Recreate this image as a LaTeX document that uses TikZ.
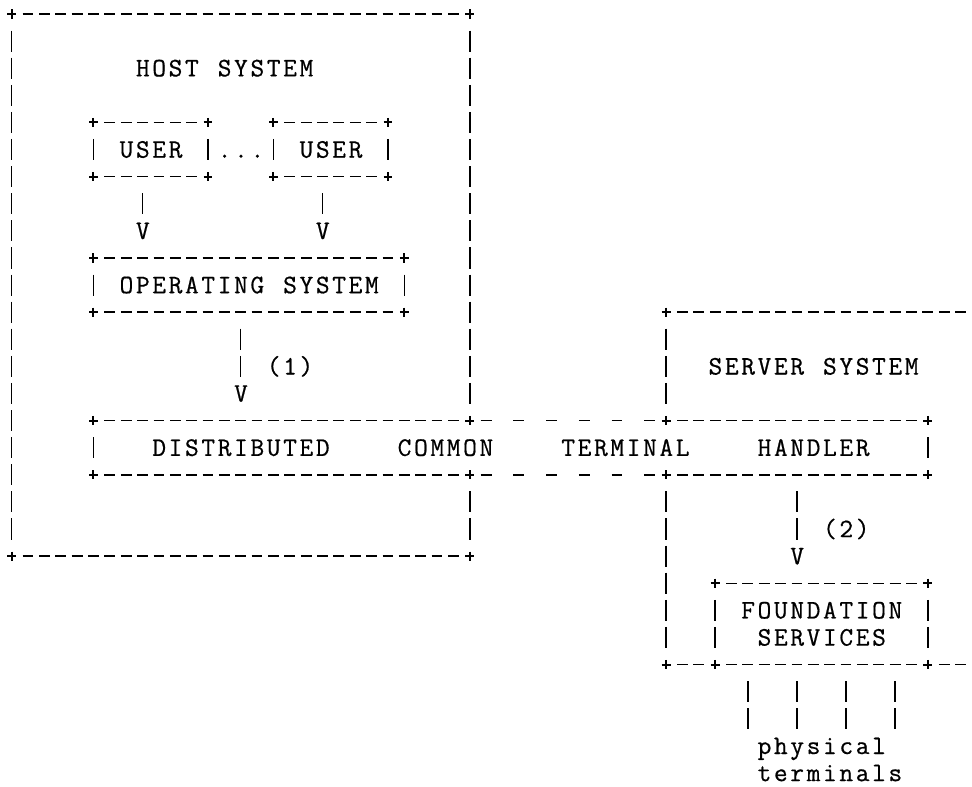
\documentclass[tikz,border=0pt]{standalone}
\usepackage{fontspec}
\newfontfamily\asciifont{Latin Modern Mono}[FakeBold=0.6]

\newlength\colw \setlength\colw{12.27pt}
\makeatletter
\newcommand\cells[1]{\@tfor\cellch:=#1\do{\makebox[\colw]{\cellch}}}
\makeatother
% ascii-like runs: dashes/bars strictly between two cells
\newcommand\hrun[3]{\draw[hdash] (#2+0.67,#1) -- (#3-0.67,#1);}
\newcommand\vrun[3]{\draw[vdash] (#1,#2+0.61) -- (#1,#3-0.61);}
\newcommand\crn[2]{\draw[cross] (#1-0.27,#2) -- (#1+0.27,#2) (#1,#2-0.17) -- (#1,#2+0.17);}

\tikzset{
  hdash/.style={line width=1.1pt, dash pattern=on 8.1pt off 4.17pt},
  vdash/.style={line width=1.1pt, dash pattern=on 15.86pt off 4.47pt},
  cross/.style={line width=1.5pt},
  lbl/.style={anchor=west, inner sep=0pt, text height=12.2pt, text depth=0pt,
    font=\fontsize{20pt}{20pt}\selectfont\asciifont}
}

\begin{document}
\begin{tikzpicture}[x=12.27pt,y=-20.33pt]
  \useasboundingbox (-0.715,-0.517) rectangle (58.7,28.49);
  % host system
  \hrun{0}{0}{28} \hrun{20}{0}{28}
  \vrun{0}{0}{20} \vrun{28}{0}{15} \vrun{28}{17}{20}
  \foreach \c/\r in {0/0,28/0,0/20,28/20} {\crn{\c}{\r}}
  \node[lbl] (host) at (7.5,2) {\cells{HOST~SYSTEM}};
  % users
  \foreach \a/\b in {5/12,16/23} {
    \hrun{4}{\a}{\b} \hrun{6}{\a}{\b}
    \vrun{\a}{4}{6} \vrun{\b}{4}{6}
    \crn{\a}{4} \crn{\b}{4} \crn{\a}{6} \crn{\b}{6}
  }
  \node[lbl] (user1) at (6.5,5) {\cells{USER}};
  \node[lbl] (dots) at (12.5,5) {\cells{...}};
  \node[lbl] (user2) at (17.5,5) {\cells{USER}};
  \vrun{8}{6}{8} \node[lbl] (va) at (7.5,8) {\cells{V}};
  \vrun{19}{6}{8} \node[lbl] (vb) at (18.5,8) {\cells{V}};
  % operating system
  \hrun{9}{5}{24} \hrun{11}{5}{24}
  \vrun{5}{9}{11} \vrun{24}{9}{11}
  \foreach \c/\r in {5/9,24/9,5/11,24/11} {\crn{\c}{\r}}
  \node[lbl] (os) at (6.5,10) {\cells{OPERATING~SYSTEM}};
  \vrun{14}{11}{14} \node[lbl] (vc) at (13.5,14) {\cells{V}};
  \node[lbl] (one) at (15.5,13) {\cells{(1)}};
  % server system
  \hrun{11}{40}{59} \crn{40}{11}
  \vrun{40}{11}{15} \vrun{40}{17}{24}
  \node[lbl] (server) at (42.5,13) {\cells{SERVER~SYSTEM}};
  % distributed common terminal handler
  \foreach \r in {15,17} {
    \hrun{\r}{5}{28} \hrun{\r}{40}{56}
    \foreach \c in {29,31,...,39} {\hrun{\r}{\c-1}{\c+1}}
    \foreach \c in {5,28,40,56} {\crn{\c}{\r}}
  }
  \vrun{5}{15}{17} \vrun{56}{15}{17}
  \node[lbl] (dcth) at (8.5,16) {\cells{DISTRIBUTED~~~~COMMON~~~~TERMINAL~~~~HANDLER}};
  \vrun{48}{17}{20} \node[lbl] (vd) at (47.5,20) {\cells{V}};
  \node[lbl] (two) at (49.5,19) {\cells{(2)}};
  % foundation services
  \hrun{21}{43}{56}
  \hrun{24}{40}{43} \hrun{24}{43}{56} \hrun{24}{56}{59}
  \vrun{43}{21}{24} \vrun{56}{21}{24}
  \foreach \c/\r in {43/21,56/21,40/24,43/24,56/24} {\crn{\c}{\r}}
  \node[lbl] (fs1) at (44.5,22) {\cells{FOUNDATION}};
  \node[lbl] (fs2) at (45.5,23) {\cells{SERVICES}};
  \foreach \c in {45,48,51,54} {\vrun{\c}{24}{27}}
  \node[lbl] (phys) at (45.5,27) {\cells{physical}};
  \node[lbl] (term) at (45.5,28) {\cells{terminals}};
\end{tikzpicture}
\end{document}
